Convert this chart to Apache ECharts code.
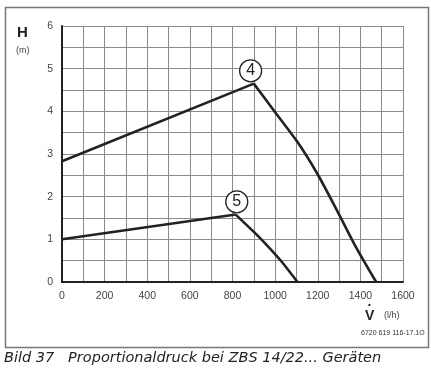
<!DOCTYPE html>
<html><head><meta charset="utf-8">
<script src="https://cdn.jsdelivr.net/npm/echarts@6/dist/echarts.min.js"></script>
<style>html,body{margin:0;padding:0;background:#fff}#c{width:431px;height:371px}</style>
</head><body><div id="c"></div>
<script>
var curve4X = [0, 900, 1000, 1105, 1200, 1290, 1378, 1474];
var curve4Y = [2.83, 4.65, 3.98, 3.28, 2.52, 1.68, 0.83, 0];
var curve5X = [0, 815, 905, 975, 1030, 1105];
var curve5Y = [1.0, 1.58, 1.15, 0.79, 0.48, 0];
var peak4 = 1;
var peak5 = 1;
var label4 = {text: '4', x: 885, y: 4.95};
var label5 = {text: '5', x: 820, y: 1.88};
var xTicks = [0, 200, 400, 600, 800, 1000, 1200, 1400, 1600];
var yTicks = [0, 1, 2, 3, 4, 5, 6];

function pairs(xs, ys){ return xs.map(function(x,i){return [x, ys[i]];}); }
var font = 'Liberation Sans, Arial, sans-serif';
var chart = echarts.init(document.getElementById('c'), null, {renderer:'canvas'});
function mp(l){
  return {symbol:'circle', symbolSize:22, silent:true,
    itemStyle:{color:'#fff', borderColor:'#222', borderWidth:1.3},
    label:{show:true, position:'inside', color:'#222', fontSize:16, fontFamily:font, formatter:l.text},
    data:[{coord:[l.x, l.y]}]};
}
var ls = {color:'#222', width:2.6};
var p4 = pairs(curve4X, curve4Y), p5 = pairs(curve5X, curve5Y);
chart.setOption({
  animation:false,
  grid:{left:62, right:28, top:26, bottom:89},
  xAxis:{type:'value', min:0, max:1600, interval:100,
    axisLine:{show:true, onZero:false, lineStyle:{color:'#222', width:2}},
    axisTick:{show:false},
    splitLine:{show:true, lineStyle:{color:'#8a8a8a', width:1}},
    axisLabel:{color:'#444', fontSize:10.5, fontFamily:font, margin:9,
      formatter:function(v){return xTicks.indexOf(v)>=0 ? String(v) : '';}}},
  yAxis:{type:'value', min:0, max:6, interval:0.5,
    axisLine:{show:true, onZero:false, lineStyle:{color:'#222', width:2}},
    axisTick:{show:false},
    splitLine:{show:true, lineStyle:{color:'#8a8a8a', width:1}},
    axisLabel:{color:'#444', fontSize:10.5, fontFamily:font, margin:9,
      formatter:function(v){return yTicks.indexOf(v)>=0 ? String(v) : '';}}},
  series:[
    {type:'line', data:p4.slice(0, peak4+1), symbol:'none', lineStyle:ls, markPoint:mp(label4)},
    {type:'line', data:p4.slice(peak4), symbol:'none', smooth:0.25, lineStyle:ls},
    {type:'line', data:p5.slice(0, peak5+1), symbol:'none', lineStyle:ls, markPoint:mp(label5)},
    {type:'line', data:p5.slice(peak5), symbol:'none', smooth:0.25, lineStyle:ls}
  ],
  graphic:[
    {type:'rect', shape:{x:5.5, y:7.5, width:423, height:340}, style:{fill:null, stroke:'#777', lineWidth:1.5}, z:-1},
    {type:'text', left:17, top:25, style:{text:'H', font:'bold 15px '+font, fill:'#222'}},
    {type:'text', left:16, top:46, style:{text:'(m)', font:'9px '+font, fill:'#444'}},
    {type:'text', left:365, top:309, style:{text:'V', font:'bold 14px '+font, fill:'#222'}},
    {type:'text', left:368, top:301, style:{text:'•', font:'bold 8px '+font, fill:'#222'}},
    {type:'text', left:384, top:311, style:{text:'(l/h)', font:'9px '+font, fill:'#444'}},
    {type:'text', left:361, top:330, style:{text:'6720 619 116-17.1O', font:'7px '+font, fill:'#333'}},
    {type:'text', left:4, top:351, style:{text:'Bild 37   Proportionaldruck bei ZBS 14/22... Geräten', font:'italic 14.5px DejaVu Sans, sans-serif', fill:'#222'}}
  ]
});
</script></body></html>
